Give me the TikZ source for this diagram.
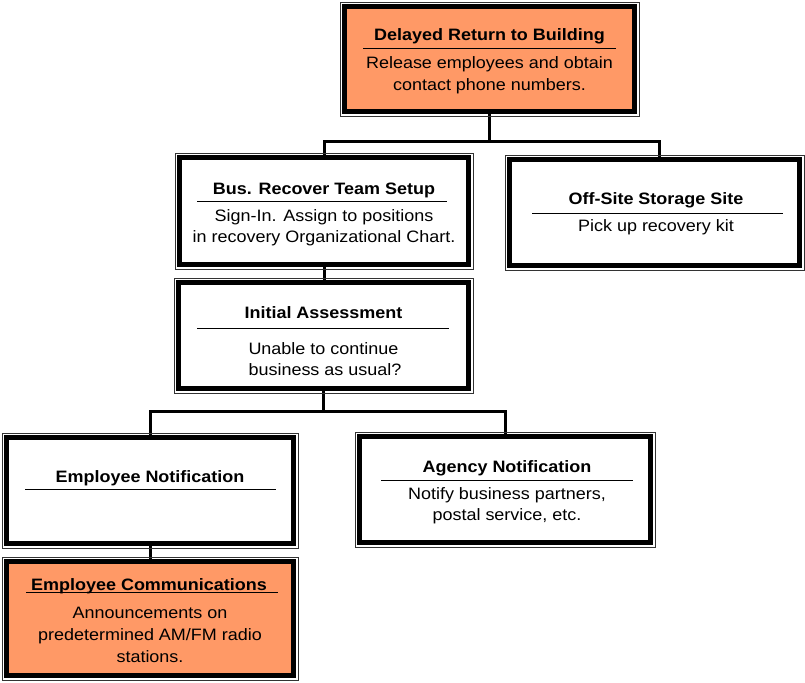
\documentclass[tikz,border=0pt]{standalone}
\usepackage{fontspec}
\setmainfont{Liberation Sans}[FakeStretch=1.09]
\definecolor{boxorange}{RGB}{255,153,102}
\begin{document}
\begin{tikzpicture}[x=1pt,y=-1pt,
  panel/.style={rectangle, inner sep=0pt, outer sep=0pt},
  ttl/.style={anchor=base, inner sep=0pt, font=\fontsize{16.5}{18}\selectfont\bfseries},
  txt/.style={anchor=base, inner sep=0pt, font=\fontsize{16.5}{18}\selectfont},
  rule/.style={line width=1.3pt},
  conn/.style={line width=3pt, line join=miter},
  outerline/.style={line width=0.9pt, draw=black!80},
  innerline/.style={line width=5pt, draw=black},
]
\useasboundingbox (0,0) rectangle (805,682);

% box frames (positions of the panels)
\node[panel, minimum width=299pt, minimum height=114pt] (delay)   at (489.5,59)    {};
\node[panel, minimum width=298pt, minimum height=116pt] (setup)   at (324,211)     {};
\node[panel, minimum width=299pt, minimum height=115pt] (storage) at (654.5,212.5) {};
\node[panel, minimum width=299pt, minimum height=115pt] (assess)  at (323.5,335.5) {};
\node[panel, minimum width=296pt, minimum height=115pt] (empnote) at (150,490.5)   {};
\node[panel, minimum width=300pt, minimum height=115pt] (agency)  at (505,489.5)   {};
\node[panel, minimum width=296pt, minimum height=123pt] (empcomm) at (150,618.5)   {};

% connectors
\coordinate (t1) at (491,141);
\coordinate (s3) at ([xshift=4.5pt]storage.north);
\draw[conn] ([yshift=4pt]delay.south) -- (delay.south |- t1);
\draw[conn] ([yshift=-4pt]setup.north) -- (setup.north |- t1) -- (t1 -| s3) -- ([yshift=-4pt]s3);
\draw[conn] ([yshift=4pt]setup.south) -- ([yshift=-4pt]setup.south |- assess.north);
\coordinate (t2) at (325,411);
\draw[conn] ([yshift=4pt]assess.south) -- (assess.south |- t2);
\draw[conn] ([yshift=-4pt]empnote.north) -- (empnote.north |- t2) -- (t2 -| agency.north) -- ([yshift=-4pt]agency.north);
\draw[conn] ([yshift=4pt]empnote.south) -- ([yshift=-4pt]empcomm.north);

% thin outer line and heavy inner line around each panel
\foreach \n/\c in {delay/boxorange, setup/white, storage/white, assess/white,
                   empnote/white, agency/white, empcomm/boxorange} {
  \draw[outerline] (\n.north west) rectangle (\n.south east);
  \draw[innerline, fill=\c] ([shift={(4.5,4.5)}]\n.north west) rectangle ([shift={(-4.5,-4.5)}]\n.south east);
}

% Delayed Return to Building
\node[ttl] (delayT) at (489.5,40.7) {Delayed Return to Building};
\draw[rule] (363,48.7) -- (616,48.7);
\node[txt] (delayA) at (489.5,68.3) {Release employees and obtain};
\node[txt] (delayB) at (489.5,90.5) {contact phone numbers.};

% Bus. Recover Team Setup
\node[ttl] (setupT) at (324,194) {Bus. Recover Team Setup};
\draw[rule] (197,201.3) -- (447,201.3);
\node[txt] (setupA) at (324,221.7) {Sign-In. Assign to positions};
\node[txt] (setupB) at (324,242.5) {in recovery Organizational Chart.};

% Off-Site Storage Site
\node[ttl] (storageT) at (656,204) {Off-Site Storage Site};
\draw[rule] (532,213.3) -- (783,213.3);
\node[txt] (storageA) at (656,231.3) {Pick up recovery kit};

% Initial Assessment
\node[ttl] (assessT) at (323.5,318.3) {Initial Assessment};
\draw[rule] (197,328.3) -- (449,328.3);
\node[txt] (assessA) at (323.5,354) {Unable to continue};
\node[txt] (assessB) at (325,375) {business as usual?};

% Employee Notification
\node[ttl] (empnoteT) at (150,482.7) {Employee Notification};
\draw[rule] (25,489.3) -- (276,489.3);

% Agency Notification
\node[ttl] (agencyT) at (507,472.7) {Agency Notification};
\draw[rule] (381,480.7) -- (633,480.7);
\node[txt] (agencyA) at (507,499) {Notify business partners,};
\node[txt] (agencyB) at (507,520.5) {postal service, etc.};

% Employee Communications
\node[ttl] (empcommT) at (149,590.7) {Employee Communications};
\draw[rule] (26,592.7) -- (278,592.7);
\node[txt] (empcommA) at (150,618.7) {Announcements on};
\node[txt] (empcommB) at (150,640.5) {predetermined AM/FM radio};
\node[txt] (empcommC) at (150,662.3) {stations.};
\end{tikzpicture}
\end{document}
